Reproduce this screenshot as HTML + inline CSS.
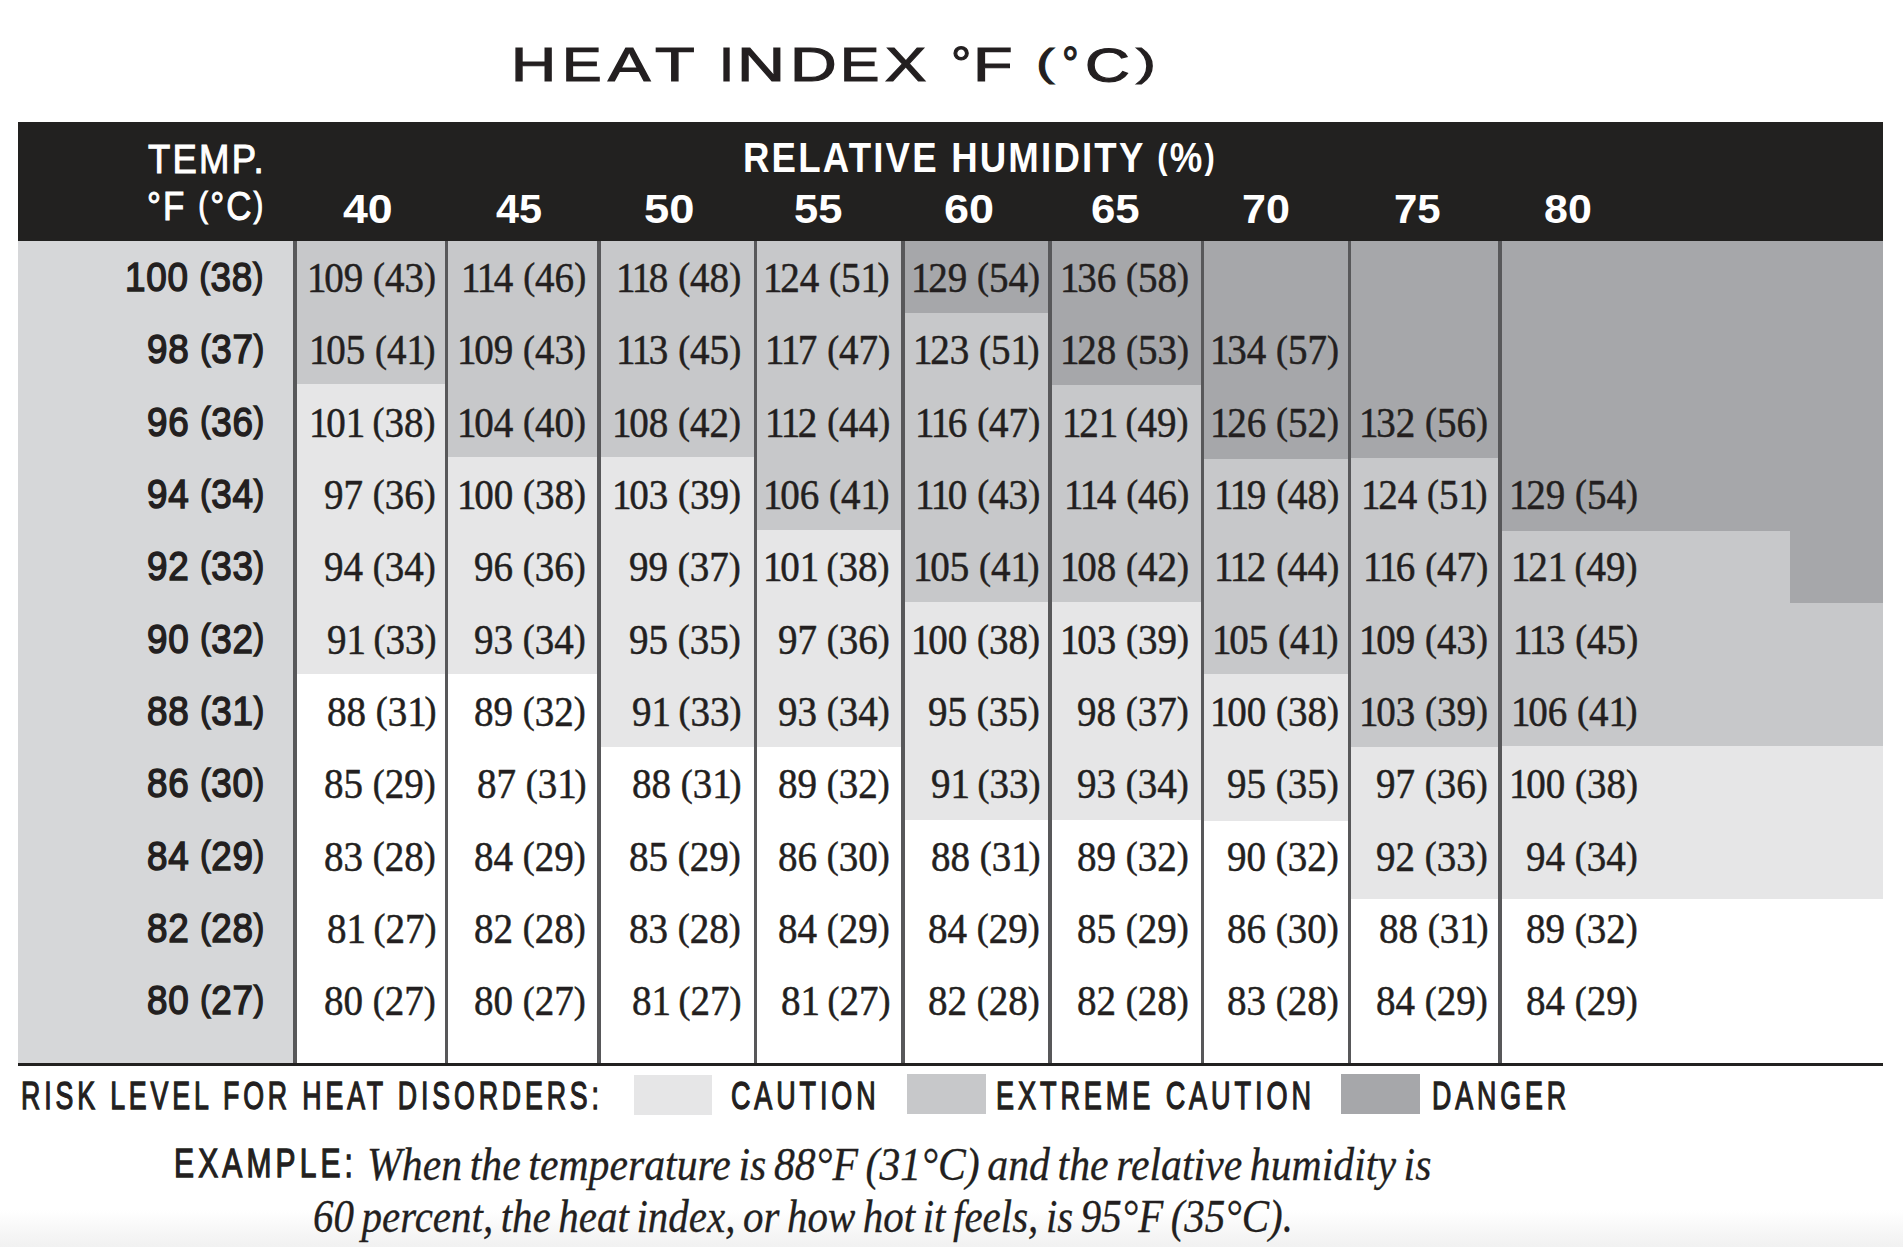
<!DOCTYPE html>
<html><head><meta charset="utf-8"><title>Heat Index</title>
<style>
html,body{margin:0;padding:0;}
body{width:1903px;height:1247px;position:relative;overflow:hidden;background:#fff;}
.t{position:absolute;white-space:nowrap;transform-origin:0 0;font-kerning:none;font-variant-ligatures:none;}
.ps{font-size:84%;position:relative;top:-0.09em}
.pr{font-size:92%;position:relative;top:-0.076em}
.o{letter-spacing:-2.5px}
.grad{position:absolute;left:0;top:1210px;width:1903px;height:37px;background:linear-gradient(#ffffff,#f1f1f1);}
</style></head><body>
<div class="grad"></div>
<div class="t" style="left:510.59px;top:37.30px;font:normal normal 50px/normal 'Liberation Sans', sans-serif;letter-spacing:0.0px;color:#231f20;transform:scale(1.2517,0.9600);-webkit-text-stroke:1.2px #231f20;">H</div>
<div class="t" style="left:561.84px;top:37.30px;font:normal normal 50px/normal 'Liberation Sans', sans-serif;letter-spacing:0.0px;color:#231f20;transform:scale(1.1893,0.9600);-webkit-text-stroke:1.2px #231f20;">E</div>
<div class="t" style="left:608.00px;top:37.30px;font:normal normal 50px/normal 'Liberation Sans', sans-serif;letter-spacing:0.0px;color:#231f20;transform:scale(1.2706,0.9600);-webkit-text-stroke:1.2px #231f20;">A</div>
<div class="t" style="left:655.00px;top:37.30px;font:normal normal 50px/normal 'Liberation Sans', sans-serif;letter-spacing:0.0px;color:#231f20;transform:scale(1.3000,0.9600);-webkit-text-stroke:1.2px #231f20;">T</div>
<div class="t" style="left:719.17px;top:37.30px;font:normal normal 50px/normal 'Liberation Sans', sans-serif;letter-spacing:0.0px;color:#231f20;transform:scale(1.0833,0.9600);-webkit-text-stroke:1.2px #231f20;">I</div>
<div class="t" style="left:737.48px;top:37.30px;font:normal normal 50px/normal 'Liberation Sans', sans-serif;letter-spacing:0.0px;color:#231f20;transform:scale(1.3310,0.9600);-webkit-text-stroke:1.2px #231f20;">N</div>
<div class="t" style="left:790.03px;top:37.30px;font:normal normal 50px/normal 'Liberation Sans', sans-serif;letter-spacing:0.0px;color:#231f20;transform:scale(1.2933,0.9600);-webkit-text-stroke:1.2px #231f20;">D</div>
<div class="t" style="left:839.87px;top:37.30px;font:normal normal 50px/normal 'Liberation Sans', sans-serif;letter-spacing:0.0px;color:#231f20;transform:scale(1.1821,0.9600);-webkit-text-stroke:1.2px #231f20;">E</div>
<div class="t" style="left:884.77px;top:37.30px;font:normal normal 50px/normal 'Liberation Sans', sans-serif;letter-spacing:0.0px;color:#231f20;transform:scale(1.2344,0.9600);-webkit-text-stroke:1.2px #231f20;">X</div>
<div class="t" style="left:950.57px;top:37.49px;font:normal normal 50px/normal 'Liberation Sans', sans-serif;letter-spacing:0.0px;color:#231f20;transform:scale(1.0133,0.9429);-webkit-text-stroke:1.2px #231f20;">°</div>
<div class="t" style="left:973.12px;top:37.30px;font:normal normal 50px/normal 'Liberation Sans', sans-serif;letter-spacing:0.0px;color:#231f20;transform:scale(1.2960,0.9600);-webkit-text-stroke:1.2px #231f20;">F</div>
<div class="t" style="left:1036.26px;top:40.08px;font:normal normal 50px/normal 'Liberation Sans', sans-serif;letter-spacing:0.0px;color:#231f20;transform:scale(1.1143,0.7826);-webkit-text-stroke:1.2px #231f20;">(</div>
<div class="t" style="left:1061.83px;top:37.49px;font:normal normal 50px/normal 'Liberation Sans', sans-serif;letter-spacing:0.0px;color:#231f20;transform:scale(0.8333,0.9429);-webkit-text-stroke:1.2px #231f20;">°</div>
<div class="t" style="left:1084.92px;top:37.72px;font:normal normal 50px/normal 'Liberation Sans', sans-serif;letter-spacing:0.0px;color:#231f20;transform:scale(1.2424,0.9639);-webkit-text-stroke:1.2px #231f20;">C</div>
<div class="t" style="left:1136.00px;top:40.08px;font:normal normal 50px/normal 'Liberation Sans', sans-serif;letter-spacing:0.0px;color:#231f20;transform:scale(1.1929,0.7826);-webkit-text-stroke:1.2px #231f20;">)</div>
<div style="position:absolute;left:18px;top:122px;width:1865px;height:118.5px;background:#222120"></div>
<div style="position:absolute;left:18px;top:240.5px;width:277px;height:822.5px;background:#d6d7d9"></div>
<div style="position:absolute;left:295px;top:240.5px;width:151.4px;height:143.5px;background:#c7c8ca"></div>
<div style="position:absolute;left:295px;top:384px;width:151.4px;height:290px;background:#e6e6e7"></div>
<div style="position:absolute;left:446.4px;top:240.5px;width:152.8px;height:216.0px;background:#c7c8ca"></div>
<div style="position:absolute;left:446.4px;top:456.5px;width:152.8px;height:217.5px;background:#e6e6e7"></div>
<div style="position:absolute;left:599.2px;top:240.5px;width:156.3px;height:216.0px;background:#c7c8ca"></div>
<div style="position:absolute;left:599.2px;top:456.5px;width:156.3px;height:290.5px;background:#e6e6e7"></div>
<div style="position:absolute;left:755.5px;top:240.5px;width:147.7px;height:289.5px;background:#c7c8ca"></div>
<div style="position:absolute;left:755.5px;top:530px;width:147.7px;height:217px;background:#e6e6e7"></div>
<div style="position:absolute;left:903.2px;top:240.5px;width:147.0px;height:72.0px;background:#a6a7aa"></div>
<div style="position:absolute;left:903.2px;top:312.5px;width:147.0px;height:289.5px;background:#c7c8ca"></div>
<div style="position:absolute;left:903.2px;top:602px;width:147.0px;height:218px;background:#e6e6e7"></div>
<div style="position:absolute;left:1050.2px;top:240.5px;width:152.4px;height:144.5px;background:#a6a7aa"></div>
<div style="position:absolute;left:1050.2px;top:385px;width:152.4px;height:217px;background:#c7c8ca"></div>
<div style="position:absolute;left:1050.2px;top:602px;width:152.4px;height:218px;background:#e6e6e7"></div>
<div style="position:absolute;left:1202.6px;top:240.5px;width:146.9px;height:218.5px;background:#a6a7aa"></div>
<div style="position:absolute;left:1202.6px;top:459px;width:146.9px;height:214.5px;background:#c7c8ca"></div>
<div style="position:absolute;left:1202.6px;top:673.5px;width:146.9px;height:147.5px;background:#e6e6e7"></div>
<div style="position:absolute;left:1349.5px;top:240.5px;width:150.5px;height:217.5px;background:#a6a7aa"></div>
<div style="position:absolute;left:1349.5px;top:458px;width:150.5px;height:288.5px;background:#c7c8ca"></div>
<div style="position:absolute;left:1349.5px;top:746.5px;width:150.5px;height:152.0px;background:#e6e6e7"></div>
<div style="position:absolute;left:1500px;top:240.5px;width:383px;height:290.0px;background:#a6a7aa"></div>
<div style="position:absolute;left:1500px;top:530.5px;width:383px;height:215.5px;background:#c7c8ca"></div>
<div style="position:absolute;left:1500px;top:746px;width:383px;height:152.5px;background:#e6e6e7"></div>
<div style="position:absolute;left:1790px;top:530px;width:93px;height:72.5px;background:#a6a7aa"></div>
<div style="position:absolute;left:293.1px;top:240.5px;width:3.8px;height:822.5px;background:#58585a"></div>
<div style="position:absolute;left:444.5px;top:240.5px;width:3.8px;height:822.5px;background:#58585a"></div>
<div style="position:absolute;left:597.3px;top:240.5px;width:3.8px;height:822.5px;background:#58585a"></div>
<div style="position:absolute;left:753.6px;top:240.5px;width:3.8px;height:822.5px;background:#58585a"></div>
<div style="position:absolute;left:901.3px;top:240.5px;width:3.8px;height:822.5px;background:#58585a"></div>
<div style="position:absolute;left:1048.3px;top:240.5px;width:3.8px;height:822.5px;background:#58585a"></div>
<div style="position:absolute;left:1200.7px;top:240.5px;width:3.8px;height:822.5px;background:#58585a"></div>
<div style="position:absolute;left:1347.6px;top:240.5px;width:3.8px;height:822.5px;background:#58585a"></div>
<div style="position:absolute;left:1498.1px;top:240.5px;width:3.8px;height:822.5px;background:#58585a"></div>
<div style="position:absolute;left:18px;top:1062.8px;width:1865px;height:2.8px;background:#222120"></div>
<div class="t" style="left:147.70px;top:136.21px;font:normal normal 41.2px/normal 'Liberation Sans', sans-serif;letter-spacing:2.5px;color:#ffffff;transform:scale(0.8866,1.0000);-webkit-text-stroke:1.0px #ffffff;">TEMP.</div>
<div class="t" style="left:146.69px;top:182.98px;font:normal normal 40.8px/normal 'Liberation Sans', sans-serif;letter-spacing:2.5px;color:#ffffff;transform:scale(0.8541,1.0000);-webkit-text-stroke:1.0px #ffffff;">°F <span class=ps>(</span>°C<span class=ps>)</span></div>
<div class="t" style="left:743.36px;top:134.35px;font:normal bold 41.6px/normal 'Liberation Sans', sans-serif;letter-spacing:2.5px;color:#ffffff;transform:scale(0.8795,1.0000);">RELATIVE HUMIDITY <span class=ps>(</span>%<span class=ps>)</span></div>
<div class="t" style="left:342.92px;top:186.13px;font:normal bold 41.4px/normal 'Liberation Sans', sans-serif;letter-spacing:0.0px;color:#ffffff;transform:scale(1.0791,1.0000);">40</div>
<div class="t" style="left:496.00px;top:186.13px;font:normal bold 41.4px/normal 'Liberation Sans', sans-serif;letter-spacing:0.0px;color:#ffffff;">45</div>
<div class="t" style="left:643.81px;top:186.13px;font:normal bold 41.4px/normal 'Liberation Sans', sans-serif;letter-spacing:0.0px;color:#ffffff;transform:scale(1.0952,1.0000);">50</div>
<div class="t" style="left:794.30px;top:186.13px;font:normal bold 41.4px/normal 'Liberation Sans', sans-serif;letter-spacing:0.0px;color:#ffffff;transform:scale(1.0512,1.0000);">55</div>
<div class="t" style="left:943.53px;top:186.13px;font:normal bold 41.4px/normal 'Liberation Sans', sans-serif;letter-spacing:0.0px;color:#ffffff;transform:scale(1.0857,1.0000);">60</div>
<div class="t" style="left:1091.38px;top:186.13px;font:normal bold 41.4px/normal 'Liberation Sans', sans-serif;letter-spacing:0.0px;color:#ffffff;transform:scale(1.0581,1.0000);">65</div>
<div class="t" style="left:1241.52px;top:186.13px;font:normal bold 41.4px/normal 'Liberation Sans', sans-serif;letter-spacing:0.0px;color:#ffffff;transform:scale(1.0405,1.0000);">70</div>
<div class="t" style="left:1393.97px;top:186.13px;font:normal bold 41.4px/normal 'Liberation Sans', sans-serif;letter-spacing:0.0px;color:#ffffff;transform:scale(1.0140,1.0000);">75</div>
<div class="t" style="left:1544.36px;top:186.13px;font:normal bold 41.4px/normal 'Liberation Sans', sans-serif;letter-spacing:0.0px;color:#ffffff;transform:scale(1.0372,1.0000);">80</div>
<div class="t" style="left:125.42px;top:252.94px;font:normal normal 41.5px/normal 'Liberation Sans', sans-serif;letter-spacing:0.8px;color:#231f20;transform:scale(0.8876,1.0000);-webkit-text-stroke:1.5px #231f20;">100 <span class=ps>(</span>38<span class=ps>)</span></div>
<div class="t" style="left:307.43px;top:254.10px;font:normal normal 41.3px/normal 'Liberation Serif', serif;letter-spacing:0.0px;color:#231f20;transform:scale(0.9450,1.0000);-webkit-text-stroke:0.5px #231f20;"><span class=o>1</span>09 <span class=pr>(</span>43<span class=pr>)</span></div>
<div class="t" style="left:461.21px;top:254.10px;font:normal normal 41.3px/normal 'Liberation Serif', serif;letter-spacing:0.0px;color:#231f20;transform:scale(0.9450,1.0000);-webkit-text-stroke:0.5px #231f20;"><span class=o>1</span><span class=o>1</span>4 <span class=pr>(</span>46<span class=pr>)</span></div>
<div class="t" style="left:616.21px;top:254.10px;font:normal normal 41.3px/normal 'Liberation Serif', serif;letter-spacing:0.0px;color:#231f20;transform:scale(0.9450,1.0000);-webkit-text-stroke:0.5px #231f20;"><span class=o>1</span><span class=o>1</span>8 <span class=pr>(</span>48<span class=pr>)</span></div>
<div class="t" style="left:763.32px;top:254.10px;font:normal normal 41.3px/normal 'Liberation Serif', serif;letter-spacing:0.0px;color:#231f20;transform:scale(0.9450,1.0000);-webkit-text-stroke:0.5px #231f20;"><span class=o>1</span>24 <span class=pr>(</span>5<span class=o>1</span><span class=pr>)</span></div>
<div class="t" style="left:911.43px;top:254.10px;font:normal normal 41.3px/normal 'Liberation Serif', serif;letter-spacing:0.0px;color:#231f20;transform:scale(0.9450,1.0000);-webkit-text-stroke:0.5px #231f20;"><span class=o>1</span>29 <span class=pr>(</span>54<span class=pr>)</span></div>
<div class="t" style="left:1060.43px;top:254.10px;font:normal normal 41.3px/normal 'Liberation Serif', serif;letter-spacing:0.0px;color:#231f20;transform:scale(0.9450,1.0000);-webkit-text-stroke:0.5px #231f20;"><span class=o>1</span>36 <span class=pr>(</span>58<span class=pr>)</span></div>
<div class="t" style="left:146.73px;top:325.27px;font:normal normal 41.5px/normal 'Liberation Sans', sans-serif;letter-spacing:0.8px;color:#231f20;transform:scale(0.8876,1.0000);-webkit-text-stroke:1.5px #231f20;">98 <span class=ps>(</span>37<span class=ps>)</span></div>
<div class="t" style="left:309.32px;top:326.43px;font:normal normal 41.3px/normal 'Liberation Serif', serif;letter-spacing:0.0px;color:#231f20;transform:scale(0.9450,1.0000);-webkit-text-stroke:0.5px #231f20;"><span class=o>1</span>05 <span class=pr>(</span>4<span class=o>1</span><span class=pr>)</span></div>
<div class="t" style="left:457.43px;top:326.43px;font:normal normal 41.3px/normal 'Liberation Serif', serif;letter-spacing:0.0px;color:#231f20;transform:scale(0.9450,1.0000);-webkit-text-stroke:0.5px #231f20;"><span class=o>1</span>09 <span class=pr>(</span>43<span class=pr>)</span></div>
<div class="t" style="left:616.21px;top:326.43px;font:normal normal 41.3px/normal 'Liberation Serif', serif;letter-spacing:0.0px;color:#231f20;transform:scale(0.9450,1.0000);-webkit-text-stroke:0.5px #231f20;"><span class=o>1</span><span class=o>1</span>3 <span class=pr>(</span>45<span class=pr>)</span></div>
<div class="t" style="left:765.21px;top:326.43px;font:normal normal 41.3px/normal 'Liberation Serif', serif;letter-spacing:0.0px;color:#231f20;transform:scale(0.9450,1.0000);-webkit-text-stroke:0.5px #231f20;"><span class=o>1</span><span class=o>1</span>7 <span class=pr>(</span>47<span class=pr>)</span></div>
<div class="t" style="left:913.32px;top:326.43px;font:normal normal 41.3px/normal 'Liberation Serif', serif;letter-spacing:0.0px;color:#231f20;transform:scale(0.9450,1.0000);-webkit-text-stroke:0.5px #231f20;"><span class=o>1</span>23 <span class=pr>(</span>5<span class=o>1</span><span class=pr>)</span></div>
<div class="t" style="left:1060.43px;top:326.43px;font:normal normal 41.3px/normal 'Liberation Serif', serif;letter-spacing:0.0px;color:#231f20;transform:scale(0.9450,1.0000);-webkit-text-stroke:0.5px #231f20;"><span class=o>1</span>28 <span class=pr>(</span>53<span class=pr>)</span></div>
<div class="t" style="left:1210.43px;top:326.43px;font:normal normal 41.3px/normal 'Liberation Serif', serif;letter-spacing:0.0px;color:#231f20;transform:scale(0.9450,1.0000);-webkit-text-stroke:0.5px #231f20;"><span class=o>1</span>34 <span class=pr>(</span>57<span class=pr>)</span></div>
<div class="t" style="left:146.73px;top:397.60px;font:normal normal 41.5px/normal 'Liberation Sans', sans-serif;letter-spacing:0.8px;color:#231f20;transform:scale(0.8876,1.0000);-webkit-text-stroke:1.5px #231f20;">96 <span class=ps>(</span>36<span class=ps>)</span></div>
<div class="t" style="left:309.32px;top:398.76px;font:normal normal 41.3px/normal 'Liberation Serif', serif;letter-spacing:0.0px;color:#231f20;transform:scale(0.9450,1.0000);-webkit-text-stroke:0.5px #231f20;"><span class=o>1</span>0<span class=o>1</span> <span class=pr>(</span>38<span class=pr>)</span></div>
<div class="t" style="left:457.43px;top:398.76px;font:normal normal 41.3px/normal 'Liberation Serif', serif;letter-spacing:0.0px;color:#231f20;transform:scale(0.9450,1.0000);-webkit-text-stroke:0.5px #231f20;"><span class=o>1</span>04 <span class=pr>(</span>40<span class=pr>)</span></div>
<div class="t" style="left:612.43px;top:398.76px;font:normal normal 41.3px/normal 'Liberation Serif', serif;letter-spacing:0.0px;color:#231f20;transform:scale(0.9450,1.0000);-webkit-text-stroke:0.5px #231f20;"><span class=o>1</span>08 <span class=pr>(</span>42<span class=pr>)</span></div>
<div class="t" style="left:765.21px;top:398.76px;font:normal normal 41.3px/normal 'Liberation Serif', serif;letter-spacing:0.0px;color:#231f20;transform:scale(0.9450,1.0000);-webkit-text-stroke:0.5px #231f20;"><span class=o>1</span><span class=o>1</span>2 <span class=pr>(</span>44<span class=pr>)</span></div>
<div class="t" style="left:915.21px;top:398.76px;font:normal normal 41.3px/normal 'Liberation Serif', serif;letter-spacing:0.0px;color:#231f20;transform:scale(0.9450,1.0000);-webkit-text-stroke:0.5px #231f20;"><span class=o>1</span><span class=o>1</span>6 <span class=pr>(</span>47<span class=pr>)</span></div>
<div class="t" style="left:1062.32px;top:398.76px;font:normal normal 41.3px/normal 'Liberation Serif', serif;letter-spacing:0.0px;color:#231f20;transform:scale(0.9450,1.0000);-webkit-text-stroke:0.5px #231f20;"><span class=o>1</span>2<span class=o>1</span> <span class=pr>(</span>49<span class=pr>)</span></div>
<div class="t" style="left:1210.43px;top:398.76px;font:normal normal 41.3px/normal 'Liberation Serif', serif;letter-spacing:0.0px;color:#231f20;transform:scale(0.9450,1.0000);-webkit-text-stroke:0.5px #231f20;"><span class=o>1</span>26 <span class=pr>(</span>52<span class=pr>)</span></div>
<div class="t" style="left:1359.43px;top:398.76px;font:normal normal 41.3px/normal 'Liberation Serif', serif;letter-spacing:0.0px;color:#231f20;transform:scale(0.9450,1.0000);-webkit-text-stroke:0.5px #231f20;"><span class=o>1</span>32 <span class=pr>(</span>56<span class=pr>)</span></div>
<div class="t" style="left:146.73px;top:469.93px;font:normal normal 41.5px/normal 'Liberation Sans', sans-serif;letter-spacing:0.8px;color:#231f20;transform:scale(0.8876,1.0000);-webkit-text-stroke:1.5px #231f20;">94 <span class=ps>(</span>34<span class=ps>)</span></div>
<div class="t" style="left:324.44px;top:471.09px;font:normal normal 41.3px/normal 'Liberation Serif', serif;letter-spacing:0.0px;color:#231f20;transform:scale(0.9450,1.0000);-webkit-text-stroke:0.5px #231f20;">97 <span class=pr>(</span>36<span class=pr>)</span></div>
<div class="t" style="left:457.43px;top:471.09px;font:normal normal 41.3px/normal 'Liberation Serif', serif;letter-spacing:0.0px;color:#231f20;transform:scale(0.9450,1.0000);-webkit-text-stroke:0.5px #231f20;"><span class=o>1</span>00 <span class=pr>(</span>38<span class=pr>)</span></div>
<div class="t" style="left:612.43px;top:471.09px;font:normal normal 41.3px/normal 'Liberation Serif', serif;letter-spacing:0.0px;color:#231f20;transform:scale(0.9450,1.0000);-webkit-text-stroke:0.5px #231f20;"><span class=o>1</span>03 <span class=pr>(</span>39<span class=pr>)</span></div>
<div class="t" style="left:763.32px;top:471.09px;font:normal normal 41.3px/normal 'Liberation Serif', serif;letter-spacing:0.0px;color:#231f20;transform:scale(0.9450,1.0000);-webkit-text-stroke:0.5px #231f20;"><span class=o>1</span>06 <span class=pr>(</span>4<span class=o>1</span><span class=pr>)</span></div>
<div class="t" style="left:915.21px;top:471.09px;font:normal normal 41.3px/normal 'Liberation Serif', serif;letter-spacing:0.0px;color:#231f20;transform:scale(0.9450,1.0000);-webkit-text-stroke:0.5px #231f20;"><span class=o>1</span><span class=o>1</span>0 <span class=pr>(</span>43<span class=pr>)</span></div>
<div class="t" style="left:1064.21px;top:471.09px;font:normal normal 41.3px/normal 'Liberation Serif', serif;letter-spacing:0.0px;color:#231f20;transform:scale(0.9450,1.0000);-webkit-text-stroke:0.5px #231f20;"><span class=o>1</span><span class=o>1</span>4 <span class=pr>(</span>46<span class=pr>)</span></div>
<div class="t" style="left:1214.21px;top:471.09px;font:normal normal 41.3px/normal 'Liberation Serif', serif;letter-spacing:0.0px;color:#231f20;transform:scale(0.9450,1.0000);-webkit-text-stroke:0.5px #231f20;"><span class=o>1</span><span class=o>1</span>9 <span class=pr>(</span>48<span class=pr>)</span></div>
<div class="t" style="left:1361.32px;top:471.09px;font:normal normal 41.3px/normal 'Liberation Serif', serif;letter-spacing:0.0px;color:#231f20;transform:scale(0.9450,1.0000);-webkit-text-stroke:0.5px #231f20;"><span class=o>1</span>24 <span class=pr>(</span>5<span class=o>1</span><span class=pr>)</span></div>
<div class="t" style="left:1509.43px;top:471.09px;font:normal normal 41.3px/normal 'Liberation Serif', serif;letter-spacing:0.0px;color:#231f20;transform:scale(0.9450,1.0000);-webkit-text-stroke:0.5px #231f20;"><span class=o>1</span>29 <span class=pr>(</span>54<span class=pr>)</span></div>
<div class="t" style="left:146.73px;top:542.26px;font:normal normal 41.5px/normal 'Liberation Sans', sans-serif;letter-spacing:0.8px;color:#231f20;transform:scale(0.8876,1.0000);-webkit-text-stroke:1.5px #231f20;">92 <span class=ps>(</span>33<span class=ps>)</span></div>
<div class="t" style="left:324.44px;top:543.42px;font:normal normal 41.3px/normal 'Liberation Serif', serif;letter-spacing:0.0px;color:#231f20;transform:scale(0.9450,1.0000);-webkit-text-stroke:0.5px #231f20;">94 <span class=pr>(</span>34<span class=pr>)</span></div>
<div class="t" style="left:474.44px;top:543.42px;font:normal normal 41.3px/normal 'Liberation Serif', serif;letter-spacing:0.0px;color:#231f20;transform:scale(0.9450,1.0000);-webkit-text-stroke:0.5px #231f20;">96 <span class=pr>(</span>36<span class=pr>)</span></div>
<div class="t" style="left:629.44px;top:543.42px;font:normal normal 41.3px/normal 'Liberation Serif', serif;letter-spacing:0.0px;color:#231f20;transform:scale(0.9450,1.0000);-webkit-text-stroke:0.5px #231f20;">99 <span class=pr>(</span>37<span class=pr>)</span></div>
<div class="t" style="left:763.32px;top:543.42px;font:normal normal 41.3px/normal 'Liberation Serif', serif;letter-spacing:0.0px;color:#231f20;transform:scale(0.9450,1.0000);-webkit-text-stroke:0.5px #231f20;"><span class=o>1</span>0<span class=o>1</span> <span class=pr>(</span>38<span class=pr>)</span></div>
<div class="t" style="left:913.32px;top:543.42px;font:normal normal 41.3px/normal 'Liberation Serif', serif;letter-spacing:0.0px;color:#231f20;transform:scale(0.9450,1.0000);-webkit-text-stroke:0.5px #231f20;"><span class=o>1</span>05 <span class=pr>(</span>4<span class=o>1</span><span class=pr>)</span></div>
<div class="t" style="left:1060.43px;top:543.42px;font:normal normal 41.3px/normal 'Liberation Serif', serif;letter-spacing:0.0px;color:#231f20;transform:scale(0.9450,1.0000);-webkit-text-stroke:0.5px #231f20;"><span class=o>1</span>08 <span class=pr>(</span>42<span class=pr>)</span></div>
<div class="t" style="left:1214.21px;top:543.42px;font:normal normal 41.3px/normal 'Liberation Serif', serif;letter-spacing:0.0px;color:#231f20;transform:scale(0.9450,1.0000);-webkit-text-stroke:0.5px #231f20;"><span class=o>1</span><span class=o>1</span>2 <span class=pr>(</span>44<span class=pr>)</span></div>
<div class="t" style="left:1363.21px;top:543.42px;font:normal normal 41.3px/normal 'Liberation Serif', serif;letter-spacing:0.0px;color:#231f20;transform:scale(0.9450,1.0000);-webkit-text-stroke:0.5px #231f20;"><span class=o>1</span><span class=o>1</span>6 <span class=pr>(</span>47<span class=pr>)</span></div>
<div class="t" style="left:1511.32px;top:543.42px;font:normal normal 41.3px/normal 'Liberation Serif', serif;letter-spacing:0.0px;color:#231f20;transform:scale(0.9450,1.0000);-webkit-text-stroke:0.5px #231f20;"><span class=o>1</span>2<span class=o>1</span> <span class=pr>(</span>49<span class=pr>)</span></div>
<div class="t" style="left:146.73px;top:614.59px;font:normal normal 41.5px/normal 'Liberation Sans', sans-serif;letter-spacing:0.8px;color:#231f20;transform:scale(0.8876,1.0000);-webkit-text-stroke:1.5px #231f20;">90 <span class=ps>(</span>32<span class=ps>)</span></div>
<div class="t" style="left:327.27px;top:615.75px;font:normal normal 41.3px/normal 'Liberation Serif', serif;letter-spacing:0.0px;color:#231f20;transform:scale(0.9450,1.0000);-webkit-text-stroke:0.5px #231f20;">9<span class=o>1</span> <span class=pr>(</span>33<span class=pr>)</span></div>
<div class="t" style="left:474.44px;top:615.75px;font:normal normal 41.3px/normal 'Liberation Serif', serif;letter-spacing:0.0px;color:#231f20;transform:scale(0.9450,1.0000);-webkit-text-stroke:0.5px #231f20;">93 <span class=pr>(</span>34<span class=pr>)</span></div>
<div class="t" style="left:629.44px;top:615.75px;font:normal normal 41.3px/normal 'Liberation Serif', serif;letter-spacing:0.0px;color:#231f20;transform:scale(0.9450,1.0000);-webkit-text-stroke:0.5px #231f20;">95 <span class=pr>(</span>35<span class=pr>)</span></div>
<div class="t" style="left:778.44px;top:615.75px;font:normal normal 41.3px/normal 'Liberation Serif', serif;letter-spacing:0.0px;color:#231f20;transform:scale(0.9450,1.0000);-webkit-text-stroke:0.5px #231f20;">97 <span class=pr>(</span>36<span class=pr>)</span></div>
<div class="t" style="left:911.43px;top:615.75px;font:normal normal 41.3px/normal 'Liberation Serif', serif;letter-spacing:0.0px;color:#231f20;transform:scale(0.9450,1.0000);-webkit-text-stroke:0.5px #231f20;"><span class=o>1</span>00 <span class=pr>(</span>38<span class=pr>)</span></div>
<div class="t" style="left:1060.43px;top:615.75px;font:normal normal 41.3px/normal 'Liberation Serif', serif;letter-spacing:0.0px;color:#231f20;transform:scale(0.9450,1.0000);-webkit-text-stroke:0.5px #231f20;"><span class=o>1</span>03 <span class=pr>(</span>39<span class=pr>)</span></div>
<div class="t" style="left:1212.32px;top:615.75px;font:normal normal 41.3px/normal 'Liberation Serif', serif;letter-spacing:0.0px;color:#231f20;transform:scale(0.9450,1.0000);-webkit-text-stroke:0.5px #231f20;"><span class=o>1</span>05 <span class=pr>(</span>4<span class=o>1</span><span class=pr>)</span></div>
<div class="t" style="left:1359.43px;top:615.75px;font:normal normal 41.3px/normal 'Liberation Serif', serif;letter-spacing:0.0px;color:#231f20;transform:scale(0.9450,1.0000);-webkit-text-stroke:0.5px #231f20;"><span class=o>1</span>09 <span class=pr>(</span>43<span class=pr>)</span></div>
<div class="t" style="left:1513.21px;top:615.75px;font:normal normal 41.3px/normal 'Liberation Serif', serif;letter-spacing:0.0px;color:#231f20;transform:scale(0.9450,1.0000);-webkit-text-stroke:0.5px #231f20;"><span class=o>1</span><span class=o>1</span>3 <span class=pr>(</span>45<span class=pr>)</span></div>
<div class="t" style="left:146.73px;top:686.92px;font:normal normal 41.5px/normal 'Liberation Sans', sans-serif;letter-spacing:0.8px;color:#231f20;transform:scale(0.8876,1.0000);-webkit-text-stroke:1.5px #231f20;">88 <span class=ps>(</span>31<span class=ps>)</span></div>
<div class="t" style="left:327.27px;top:688.08px;font:normal normal 41.3px/normal 'Liberation Serif', serif;letter-spacing:0.0px;color:#231f20;transform:scale(0.9450,1.0000);-webkit-text-stroke:0.5px #231f20;">88 <span class=pr>(</span>3<span class=o>1</span><span class=pr>)</span></div>
<div class="t" style="left:474.44px;top:688.08px;font:normal normal 41.3px/normal 'Liberation Serif', serif;letter-spacing:0.0px;color:#231f20;transform:scale(0.9450,1.0000);-webkit-text-stroke:0.5px #231f20;">89 <span class=pr>(</span>32<span class=pr>)</span></div>
<div class="t" style="left:632.27px;top:688.08px;font:normal normal 41.3px/normal 'Liberation Serif', serif;letter-spacing:0.0px;color:#231f20;transform:scale(0.9450,1.0000);-webkit-text-stroke:0.5px #231f20;">9<span class=o>1</span> <span class=pr>(</span>33<span class=pr>)</span></div>
<div class="t" style="left:778.44px;top:688.08px;font:normal normal 41.3px/normal 'Liberation Serif', serif;letter-spacing:0.0px;color:#231f20;transform:scale(0.9450,1.0000);-webkit-text-stroke:0.5px #231f20;">93 <span class=pr>(</span>34<span class=pr>)</span></div>
<div class="t" style="left:928.44px;top:688.08px;font:normal normal 41.3px/normal 'Liberation Serif', serif;letter-spacing:0.0px;color:#231f20;transform:scale(0.9450,1.0000);-webkit-text-stroke:0.5px #231f20;">95 <span class=pr>(</span>35<span class=pr>)</span></div>
<div class="t" style="left:1077.44px;top:688.08px;font:normal normal 41.3px/normal 'Liberation Serif', serif;letter-spacing:0.0px;color:#231f20;transform:scale(0.9450,1.0000);-webkit-text-stroke:0.5px #231f20;">98 <span class=pr>(</span>37<span class=pr>)</span></div>
<div class="t" style="left:1210.43px;top:688.08px;font:normal normal 41.3px/normal 'Liberation Serif', serif;letter-spacing:0.0px;color:#231f20;transform:scale(0.9450,1.0000);-webkit-text-stroke:0.5px #231f20;"><span class=o>1</span>00 <span class=pr>(</span>38<span class=pr>)</span></div>
<div class="t" style="left:1359.43px;top:688.08px;font:normal normal 41.3px/normal 'Liberation Serif', serif;letter-spacing:0.0px;color:#231f20;transform:scale(0.9450,1.0000);-webkit-text-stroke:0.5px #231f20;"><span class=o>1</span>03 <span class=pr>(</span>39<span class=pr>)</span></div>
<div class="t" style="left:1511.32px;top:688.08px;font:normal normal 41.3px/normal 'Liberation Serif', serif;letter-spacing:0.0px;color:#231f20;transform:scale(0.9450,1.0000);-webkit-text-stroke:0.5px #231f20;"><span class=o>1</span>06 <span class=pr>(</span>4<span class=o>1</span><span class=pr>)</span></div>
<div class="t" style="left:146.73px;top:759.25px;font:normal normal 41.5px/normal 'Liberation Sans', sans-serif;letter-spacing:0.8px;color:#231f20;transform:scale(0.8876,1.0000);-webkit-text-stroke:1.5px #231f20;">86 <span class=ps>(</span>30<span class=ps>)</span></div>
<div class="t" style="left:324.44px;top:760.41px;font:normal normal 41.3px/normal 'Liberation Serif', serif;letter-spacing:0.0px;color:#231f20;transform:scale(0.9450,1.0000);-webkit-text-stroke:0.5px #231f20;">85 <span class=pr>(</span>29<span class=pr>)</span></div>
<div class="t" style="left:477.27px;top:760.41px;font:normal normal 41.3px/normal 'Liberation Serif', serif;letter-spacing:0.0px;color:#231f20;transform:scale(0.9450,1.0000);-webkit-text-stroke:0.5px #231f20;">87 <span class=pr>(</span>3<span class=o>1</span><span class=pr>)</span></div>
<div class="t" style="left:632.27px;top:760.41px;font:normal normal 41.3px/normal 'Liberation Serif', serif;letter-spacing:0.0px;color:#231f20;transform:scale(0.9450,1.0000);-webkit-text-stroke:0.5px #231f20;">88 <span class=pr>(</span>3<span class=o>1</span><span class=pr>)</span></div>
<div class="t" style="left:778.44px;top:760.41px;font:normal normal 41.3px/normal 'Liberation Serif', serif;letter-spacing:0.0px;color:#231f20;transform:scale(0.9450,1.0000);-webkit-text-stroke:0.5px #231f20;">89 <span class=pr>(</span>32<span class=pr>)</span></div>
<div class="t" style="left:931.27px;top:760.41px;font:normal normal 41.3px/normal 'Liberation Serif', serif;letter-spacing:0.0px;color:#231f20;transform:scale(0.9450,1.0000);-webkit-text-stroke:0.5px #231f20;">9<span class=o>1</span> <span class=pr>(</span>33<span class=pr>)</span></div>
<div class="t" style="left:1077.44px;top:760.41px;font:normal normal 41.3px/normal 'Liberation Serif', serif;letter-spacing:0.0px;color:#231f20;transform:scale(0.9450,1.0000);-webkit-text-stroke:0.5px #231f20;">93 <span class=pr>(</span>34<span class=pr>)</span></div>
<div class="t" style="left:1227.44px;top:760.41px;font:normal normal 41.3px/normal 'Liberation Serif', serif;letter-spacing:0.0px;color:#231f20;transform:scale(0.9450,1.0000);-webkit-text-stroke:0.5px #231f20;">95 <span class=pr>(</span>35<span class=pr>)</span></div>
<div class="t" style="left:1376.44px;top:760.41px;font:normal normal 41.3px/normal 'Liberation Serif', serif;letter-spacing:0.0px;color:#231f20;transform:scale(0.9450,1.0000);-webkit-text-stroke:0.5px #231f20;">97 <span class=pr>(</span>36<span class=pr>)</span></div>
<div class="t" style="left:1509.43px;top:760.41px;font:normal normal 41.3px/normal 'Liberation Serif', serif;letter-spacing:0.0px;color:#231f20;transform:scale(0.9450,1.0000);-webkit-text-stroke:0.5px #231f20;"><span class=o>1</span>00 <span class=pr>(</span>38<span class=pr>)</span></div>
<div class="t" style="left:146.73px;top:831.58px;font:normal normal 41.5px/normal 'Liberation Sans', sans-serif;letter-spacing:0.8px;color:#231f20;transform:scale(0.8876,1.0000);-webkit-text-stroke:1.5px #231f20;">84 <span class=ps>(</span>29<span class=ps>)</span></div>
<div class="t" style="left:324.44px;top:832.74px;font:normal normal 41.3px/normal 'Liberation Serif', serif;letter-spacing:0.0px;color:#231f20;transform:scale(0.9450,1.0000);-webkit-text-stroke:0.5px #231f20;">83 <span class=pr>(</span>28<span class=pr>)</span></div>
<div class="t" style="left:474.44px;top:832.74px;font:normal normal 41.3px/normal 'Liberation Serif', serif;letter-spacing:0.0px;color:#231f20;transform:scale(0.9450,1.0000);-webkit-text-stroke:0.5px #231f20;">84 <span class=pr>(</span>29<span class=pr>)</span></div>
<div class="t" style="left:629.44px;top:832.74px;font:normal normal 41.3px/normal 'Liberation Serif', serif;letter-spacing:0.0px;color:#231f20;transform:scale(0.9450,1.0000);-webkit-text-stroke:0.5px #231f20;">85 <span class=pr>(</span>29<span class=pr>)</span></div>
<div class="t" style="left:778.44px;top:832.74px;font:normal normal 41.3px/normal 'Liberation Serif', serif;letter-spacing:0.0px;color:#231f20;transform:scale(0.9450,1.0000);-webkit-text-stroke:0.5px #231f20;">86 <span class=pr>(</span>30<span class=pr>)</span></div>
<div class="t" style="left:931.27px;top:832.74px;font:normal normal 41.3px/normal 'Liberation Serif', serif;letter-spacing:0.0px;color:#231f20;transform:scale(0.9450,1.0000);-webkit-text-stroke:0.5px #231f20;">88 <span class=pr>(</span>3<span class=o>1</span><span class=pr>)</span></div>
<div class="t" style="left:1077.44px;top:832.74px;font:normal normal 41.3px/normal 'Liberation Serif', serif;letter-spacing:0.0px;color:#231f20;transform:scale(0.9450,1.0000);-webkit-text-stroke:0.5px #231f20;">89 <span class=pr>(</span>32<span class=pr>)</span></div>
<div class="t" style="left:1227.44px;top:832.74px;font:normal normal 41.3px/normal 'Liberation Serif', serif;letter-spacing:0.0px;color:#231f20;transform:scale(0.9450,1.0000);-webkit-text-stroke:0.5px #231f20;">90 <span class=pr>(</span>32<span class=pr>)</span></div>
<div class="t" style="left:1376.44px;top:832.74px;font:normal normal 41.3px/normal 'Liberation Serif', serif;letter-spacing:0.0px;color:#231f20;transform:scale(0.9450,1.0000);-webkit-text-stroke:0.5px #231f20;">92 <span class=pr>(</span>33<span class=pr>)</span></div>
<div class="t" style="left:1526.44px;top:832.74px;font:normal normal 41.3px/normal 'Liberation Serif', serif;letter-spacing:0.0px;color:#231f20;transform:scale(0.9450,1.0000);-webkit-text-stroke:0.5px #231f20;">94 <span class=pr>(</span>34<span class=pr>)</span></div>
<div class="t" style="left:146.73px;top:903.91px;font:normal normal 41.5px/normal 'Liberation Sans', sans-serif;letter-spacing:0.8px;color:#231f20;transform:scale(0.8876,1.0000);-webkit-text-stroke:1.5px #231f20;">82 <span class=ps>(</span>28<span class=ps>)</span></div>
<div class="t" style="left:327.27px;top:905.07px;font:normal normal 41.3px/normal 'Liberation Serif', serif;letter-spacing:0.0px;color:#231f20;transform:scale(0.9450,1.0000);-webkit-text-stroke:0.5px #231f20;">8<span class=o>1</span> <span class=pr>(</span>27<span class=pr>)</span></div>
<div class="t" style="left:474.44px;top:905.07px;font:normal normal 41.3px/normal 'Liberation Serif', serif;letter-spacing:0.0px;color:#231f20;transform:scale(0.9450,1.0000);-webkit-text-stroke:0.5px #231f20;">82 <span class=pr>(</span>28<span class=pr>)</span></div>
<div class="t" style="left:629.44px;top:905.07px;font:normal normal 41.3px/normal 'Liberation Serif', serif;letter-spacing:0.0px;color:#231f20;transform:scale(0.9450,1.0000);-webkit-text-stroke:0.5px #231f20;">83 <span class=pr>(</span>28<span class=pr>)</span></div>
<div class="t" style="left:778.44px;top:905.07px;font:normal normal 41.3px/normal 'Liberation Serif', serif;letter-spacing:0.0px;color:#231f20;transform:scale(0.9450,1.0000);-webkit-text-stroke:0.5px #231f20;">84 <span class=pr>(</span>29<span class=pr>)</span></div>
<div class="t" style="left:928.44px;top:905.07px;font:normal normal 41.3px/normal 'Liberation Serif', serif;letter-spacing:0.0px;color:#231f20;transform:scale(0.9450,1.0000);-webkit-text-stroke:0.5px #231f20;">84 <span class=pr>(</span>29<span class=pr>)</span></div>
<div class="t" style="left:1077.44px;top:905.07px;font:normal normal 41.3px/normal 'Liberation Serif', serif;letter-spacing:0.0px;color:#231f20;transform:scale(0.9450,1.0000);-webkit-text-stroke:0.5px #231f20;">85 <span class=pr>(</span>29<span class=pr>)</span></div>
<div class="t" style="left:1227.44px;top:905.07px;font:normal normal 41.3px/normal 'Liberation Serif', serif;letter-spacing:0.0px;color:#231f20;transform:scale(0.9450,1.0000);-webkit-text-stroke:0.5px #231f20;">86 <span class=pr>(</span>30<span class=pr>)</span></div>
<div class="t" style="left:1379.27px;top:905.07px;font:normal normal 41.3px/normal 'Liberation Serif', serif;letter-spacing:0.0px;color:#231f20;transform:scale(0.9450,1.0000);-webkit-text-stroke:0.5px #231f20;">88 <span class=pr>(</span>3<span class=o>1</span><span class=pr>)</span></div>
<div class="t" style="left:1526.44px;top:905.07px;font:normal normal 41.3px/normal 'Liberation Serif', serif;letter-spacing:0.0px;color:#231f20;transform:scale(0.9450,1.0000);-webkit-text-stroke:0.5px #231f20;">89 <span class=pr>(</span>32<span class=pr>)</span></div>
<div class="t" style="left:146.73px;top:976.24px;font:normal normal 41.5px/normal 'Liberation Sans', sans-serif;letter-spacing:0.8px;color:#231f20;transform:scale(0.8876,1.0000);-webkit-text-stroke:1.5px #231f20;">80 <span class=ps>(</span>27<span class=ps>)</span></div>
<div class="t" style="left:324.44px;top:977.40px;font:normal normal 41.3px/normal 'Liberation Serif', serif;letter-spacing:0.0px;color:#231f20;transform:scale(0.9450,1.0000);-webkit-text-stroke:0.5px #231f20;">80 <span class=pr>(</span>27<span class=pr>)</span></div>
<div class="t" style="left:474.44px;top:977.40px;font:normal normal 41.3px/normal 'Liberation Serif', serif;letter-spacing:0.0px;color:#231f20;transform:scale(0.9450,1.0000);-webkit-text-stroke:0.5px #231f20;">80 <span class=pr>(</span>27<span class=pr>)</span></div>
<div class="t" style="left:632.27px;top:977.40px;font:normal normal 41.3px/normal 'Liberation Serif', serif;letter-spacing:0.0px;color:#231f20;transform:scale(0.9450,1.0000);-webkit-text-stroke:0.5px #231f20;">8<span class=o>1</span> <span class=pr>(</span>27<span class=pr>)</span></div>
<div class="t" style="left:781.27px;top:977.40px;font:normal normal 41.3px/normal 'Liberation Serif', serif;letter-spacing:0.0px;color:#231f20;transform:scale(0.9450,1.0000);-webkit-text-stroke:0.5px #231f20;">8<span class=o>1</span> <span class=pr>(</span>27<span class=pr>)</span></div>
<div class="t" style="left:928.44px;top:977.40px;font:normal normal 41.3px/normal 'Liberation Serif', serif;letter-spacing:0.0px;color:#231f20;transform:scale(0.9450,1.0000);-webkit-text-stroke:0.5px #231f20;">82 <span class=pr>(</span>28<span class=pr>)</span></div>
<div class="t" style="left:1077.44px;top:977.40px;font:normal normal 41.3px/normal 'Liberation Serif', serif;letter-spacing:0.0px;color:#231f20;transform:scale(0.9450,1.0000);-webkit-text-stroke:0.5px #231f20;">82 <span class=pr>(</span>28<span class=pr>)</span></div>
<div class="t" style="left:1227.44px;top:977.40px;font:normal normal 41.3px/normal 'Liberation Serif', serif;letter-spacing:0.0px;color:#231f20;transform:scale(0.9450,1.0000);-webkit-text-stroke:0.5px #231f20;">83 <span class=pr>(</span>28<span class=pr>)</span></div>
<div class="t" style="left:1376.44px;top:977.40px;font:normal normal 41.3px/normal 'Liberation Serif', serif;letter-spacing:0.0px;color:#231f20;transform:scale(0.9450,1.0000);-webkit-text-stroke:0.5px #231f20;">84 <span class=pr>(</span>29<span class=pr>)</span></div>
<div class="t" style="left:1526.44px;top:977.40px;font:normal normal 41.3px/normal 'Liberation Serif', serif;letter-spacing:0.0px;color:#231f20;transform:scale(0.9450,1.0000);-webkit-text-stroke:0.5px #231f20;">84 <span class=pr>(</span>29<span class=pr>)</span></div>
<div class="t" style="left:21.17px;top:1072.54px;font:normal normal 41.5px/normal 'Liberation Sans', sans-serif;letter-spacing:6px;color:#231f20;transform:scale(0.6441,0.9533);-webkit-text-stroke:1.4px #231f20;">RISK LEVEL FOR HEAT DISORDERS:</div>
<div style="position:absolute;left:634px;top:1075px;width:78px;height:39.5px;background:#e6e6e7"></div>
<div class="t" style="left:730.75px;top:1072.54px;font:normal normal 41.5px/normal 'Liberation Sans', sans-serif;letter-spacing:6px;color:#231f20;transform:scale(0.6493,0.9533);-webkit-text-stroke:1.4px #231f20;">CAUTION</div>
<div style="position:absolute;left:907.2px;top:1074.2px;width:78.8px;height:40.3px;background:#c7c8ca"></div>
<div class="t" style="left:996.44px;top:1072.54px;font:normal normal 41.5px/normal 'Liberation Sans', sans-serif;letter-spacing:6px;color:#231f20;transform:scale(0.6522,0.9533);-webkit-text-stroke:1.4px #231f20;">EXTREME CAUTION</div>
<div style="position:absolute;left:1341px;top:1074.2px;width:79px;height:40.3px;background:#a6a7aa"></div>
<div class="t" style="left:1431.96px;top:1072.54px;font:normal normal 41.5px/normal 'Liberation Sans', sans-serif;letter-spacing:6px;color:#231f20;transform:scale(0.6458,0.9533);-webkit-text-stroke:1.4px #231f20;">DANGER</div>
<div class="t" style="left:173.73px;top:1141.11px;font:normal normal 43.5px/normal 'Liberation Sans', sans-serif;letter-spacing:6px;color:#231f20;transform:scale(0.6893,0.9212);-webkit-text-stroke:1.4px #231f20;">EXAMPLE:</div>
<div class="t" style="left:367.45px;top:1137.76px;font:italic normal 45.5px/normal 'Liberation Serif', serif;letter-spacing:0.0px;color:#231f20;transform:scale(0.9172,1.0000);-webkit-text-stroke:0.3px #231f20;word-spacing:-3px;">When the temperature is 88°F (31°C) and the relative humidity is</div>
<div class="t" style="left:313.30px;top:1189.96px;font:italic normal 45.5px/normal 'Liberation Serif', serif;letter-spacing:0.0px;color:#231f20;transform:scale(0.9007,1.0000);-webkit-text-stroke:0.3px #231f20;word-spacing:-3px;">60 percent, the heat index, or how hot it feels, is 95°F (35°C).</div>
</body></html>
